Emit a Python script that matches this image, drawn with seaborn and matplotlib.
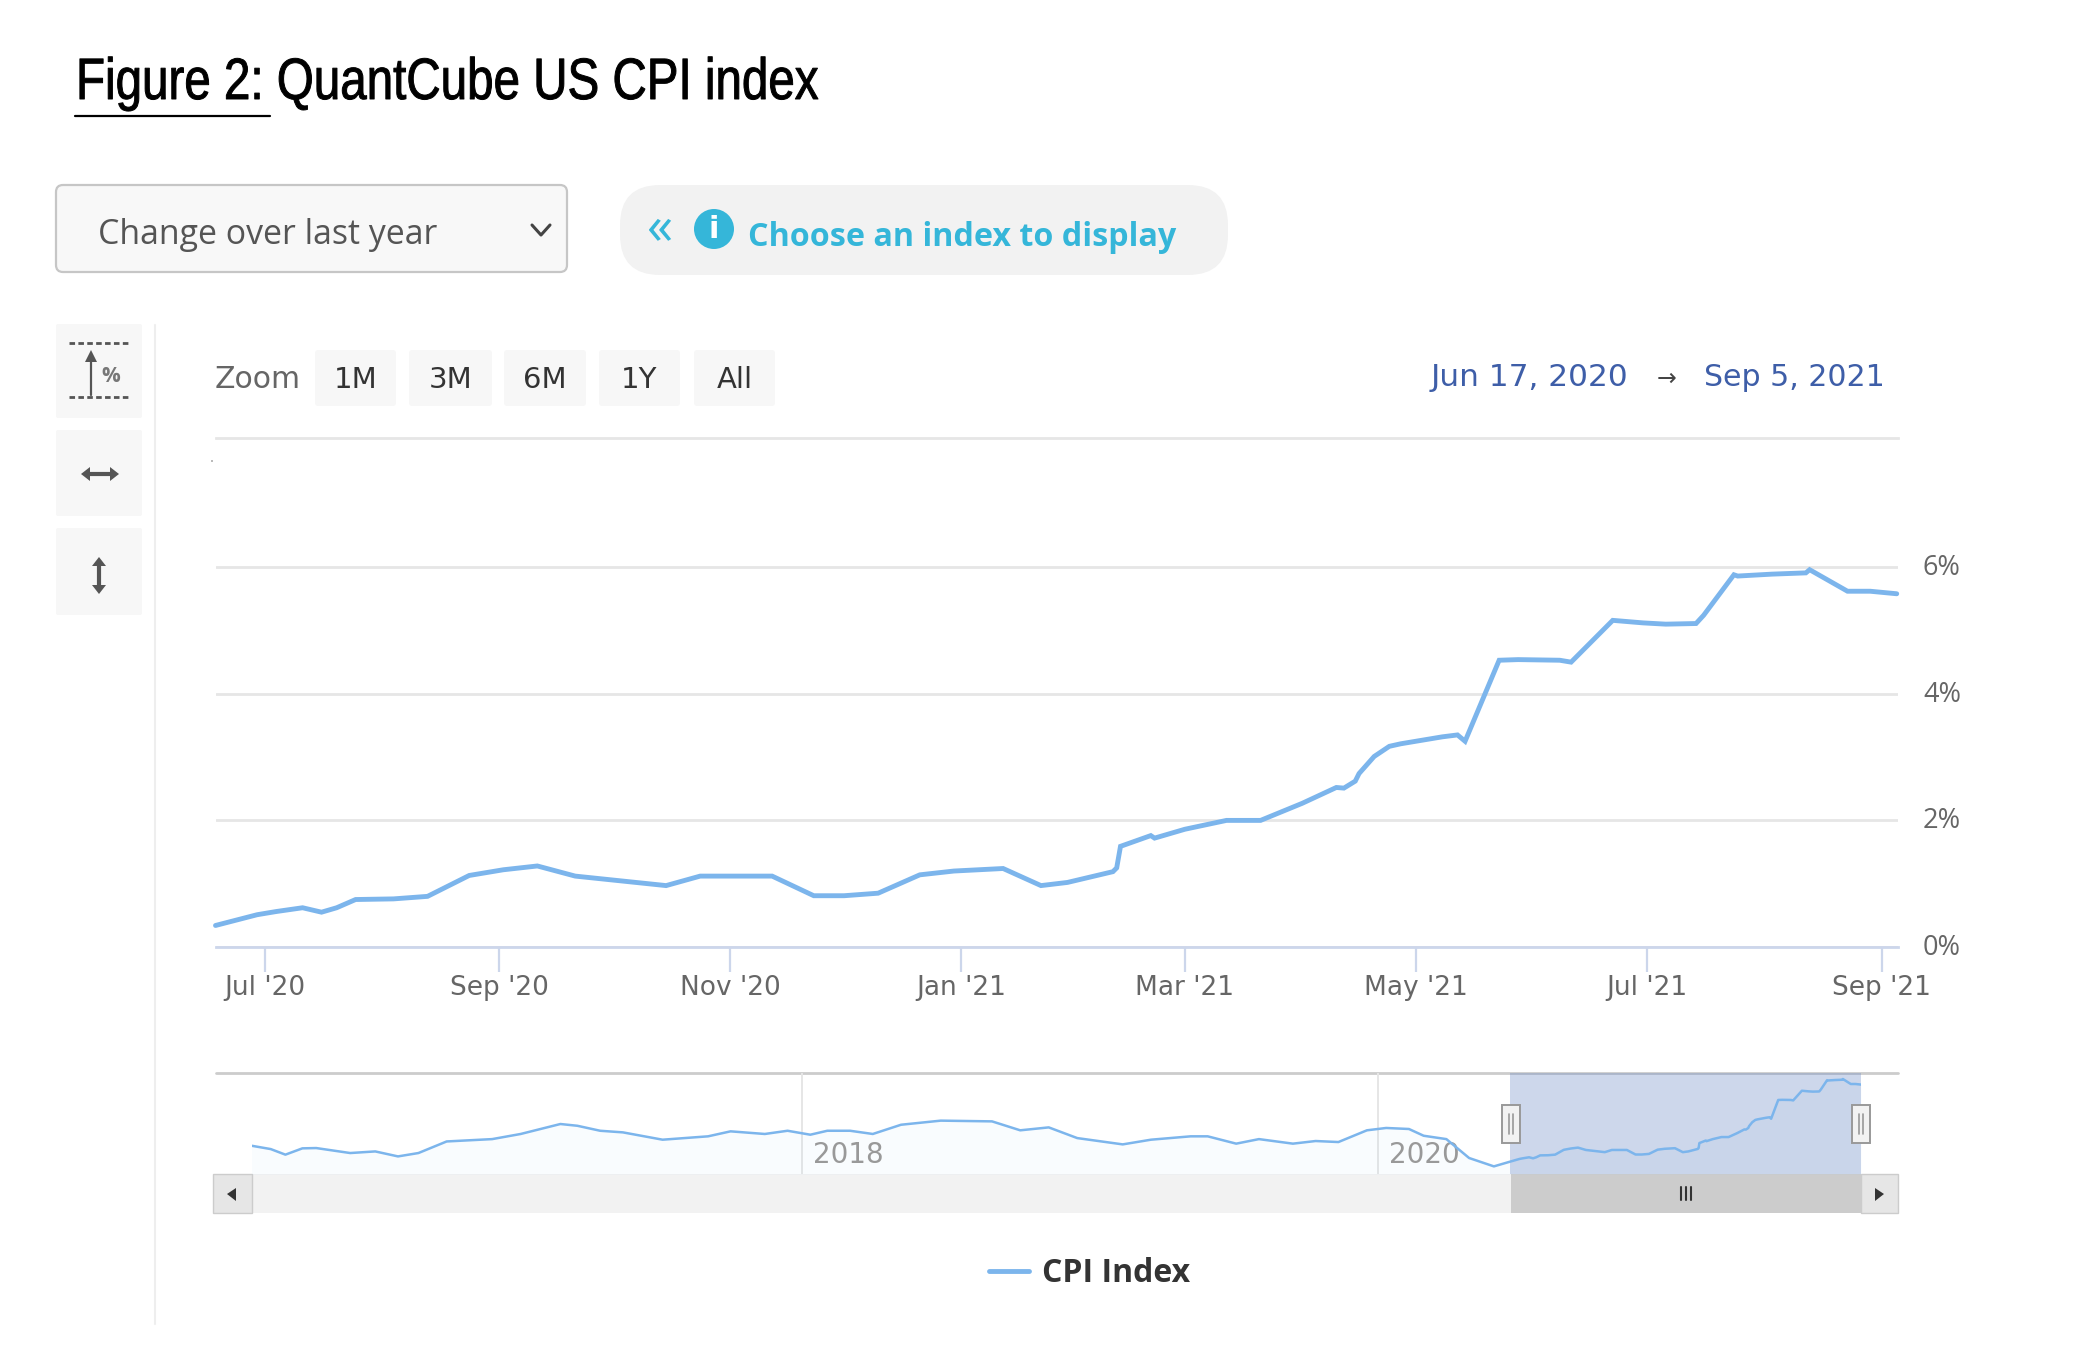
import numpy as np
import pandas as pd
import matplotlib
matplotlib.use("Agg")
import matplotlib.pyplot as plt
import matplotlib.dates as mdates
import matplotlib.patheffects as pe
from matplotlib.patches import FancyBboxPatch, Rectangle, Circle, Polygon
from matplotlib.lines import Line2D
from matplotlib.transforms import Affine2D
import seaborn as sns

# ---------- data ----------
dates = ["2020-06-18","2020-06-29","2020-07-04","2020-07-11","2020-07-16","2020-07-20","2020-07-25",
         "2020-08-04","2020-08-13","2020-08-24","2020-09-02","2020-09-11","2020-09-21","2020-10-15",
         "2020-10-24","2020-11-12","2020-11-23","2020-12-01","2020-12-10","2020-12-21","2020-12-30",
         "2021-01-12","2021-01-22","2021-01-29","2021-02-10","2021-02-11","2021-02-12","2021-02-20",
         "2021-02-21","2021-03-01","2021-03-12","2021-03-21","2021-04-01","2021-04-10","2021-04-12",
         "2021-04-15","2021-04-16","2021-04-20","2021-04-24","2021-04-27","2021-05-08","2021-05-12",
         "2021-05-14","2021-05-23","2021-05-28","2021-06-08","2021-06-11","2021-06-22",
         "2021-06-30","2021-07-06","2021-07-14","2021-07-16","2021-07-24","2021-07-25","2021-08-03",
         "2021-08-12","2021-08-13","2021-08-23","2021-08-29","2021-09-05"]
cpi = [0.34,0.51,0.56,0.62,0.55,0.62,0.75,
       0.76,0.80,1.13,1.22,1.28,1.12,0.97,
       1.12,1.12,0.81,0.81,0.85,1.14,1.20,
       1.24,0.97,1.02,1.19,1.25,1.59,1.76,
       1.72,1.86,2.00,2.00,2.27,2.52,2.51,
       2.62,2.74,3.01,3.17,3.21,3.32,3.35,
       3.25,4.53,4.54,4.53,4.50,5.16,
       5.12,5.10,5.11,5.24,5.88,5.86,5.89,
       5.91,5.96,5.62,5.62,5.58]

hist_years = [2016.087,2016.154,2016.205,2016.264,2016.312,2016.430,2016.517,2016.596,2016.667,2016.765,
              2016.923,2017.022,2017.160,2017.219,2017.298,2017.377,2017.515,2017.673,2017.751,2017.870,
              2017.949,2018.028,2018.087,2018.166,2018.245,2018.343,2018.481,2018.659,2018.757,2018.856,
              2018.955,2019.113,2019.211,2019.349,2019.408,2019.507,2019.586,2019.704,2019.783,2019.862,
              2019.961,2020.028,2020.107,2020.158,2020.237,2020.316,2020.402]
hist_cpi = [1.41,1.18,0.80,1.23,1.25,0.91,1.02,0.68,0.91,1.70,
            1.86,2.21,2.89,2.77,2.43,2.32,1.82,2.05,2.39,2.21,
            2.43,2.16,2.43,2.43,2.21,2.84,3.12,3.07,2.46,2.66,
            1.93,1.50,1.82,2.05,2.05,1.55,1.86,1.55,1.73,1.66,
            2.46,2.62,2.55,2.09,1.86,0.57,0.00]

y_ticks = [0, 2, 4, 6]
y_labels = ["0%", "2%", "4%", "6%"]
zoom_labels = ["1M", "3M", "6M", "1Y", "All"]
title = "Figure 2: QuantCube US CPI index"
series_name = "CPI Index"

# ---------- style ----------
sns.set_theme(style="white")
plt.rcParams["font.family"] = ["Open Sans", "DejaVu Sans"]
LINE = "#7cb5ec"; GRID = "#e6e6e6"; AXISC = "#ccd6eb"; LAB = "#666666"
DJ = "DejaVu Sans"
W, H = 2084, 1348
fig = plt.figure(figsize=(W/100, H/100), dpi=100, facecolor="white")

def axpx(x0, y0, x1, y1, **kw):
    return fig.add_axes([x0/W, 1-y1/H, (x1-x0)/W, (y1-y0)/H], **kw)

ui = axpx(0, 0, W, H)
ui.set_xlim(0, W); ui.set_ylim(H, 0); ui.axis("off")

def box(x0, y0, x1, y1, fc, ec="none", r=6, lw=1.5, z=1):
    ui.add_patch(FancyBboxPatch((x0+r, y0+r), x1-x0-2*r, y1-y0-2*r,
                                boxstyle=f"round,pad={r},rounding_size={r}",
                                fc=fc, ec=ec, lw=lw, zorder=z))

def line(xs, ys, c="#555555", lw=2.0, z=3, **kw):
    ui.add_line(Line2D(xs, ys, color=c, lw=lw, zorder=z, **kw))

class Squeeze(pe.AbstractPathEffect):
    """Condense the text horizontally about its left edge, with a slight embolden."""
    def __init__(self, x0, sx, stroke=0.5):
        super().__init__()
        self.x0, self.sx, self.stroke = x0, sx, stroke
    def draw_path(self, renderer, gc, tpath, affine, rgbFace=None):
        t = affine + Affine2D().translate(-self.x0, 0).scale(self.sx, 1).translate(self.x0, 0)
        gc.set_linewidth(self.stroke)
        gc.set_foreground(rgbFace if rgbFace is not None else "black")
        renderer.draw_path(gc, tpath, t, rgbFace)

# title
ui.text(76, 99, title, fontsize=42, family="Liberation Sans", color="black", va="baseline", ha="left",
        path_effects=[Squeeze(76, 0.815, 0.7)])
line([75, 270], [116, 116], c="black", lw=1.6)

# dropdown
box(56, 185, 567, 272, "#f8f8f8", "#c6c6c6", r=7, lw=1.6)
ui.text(98, 235, "Change over last year", fontsize=24.4, color="#555555", va="center", ha="left")
line([532, 541, 550], [225, 235, 225], c="#444444", lw=2.2)

# pill
box(620, 185, 1228, 275, "#f2f2f2", r=40)
CYAN = "#35b6d9"
ui.text(660, 229, "\u00ab", fontsize=38, color=CYAN, va="center", ha="center")
ui.add_patch(Circle((714, 229), 20, fc=CYAN, ec="none", zorder=3))
ui.text(714, 229, "i", fontsize=22, fontweight="bold", color="white", va="center", ha="center", zorder=4,
        family=DJ)
ui.text(748, 238, "Choose an index to display", fontsize=23.2, fontweight="bold", color=CYAN, va="center", ha="left")

# left toolbar
for y0, y1 in [(324, 418), (430, 516), (528, 615)]:
    box(56, y0, 142, y1, "#f7f7f7", r=2)
line([155, 155], [325, 1324], c="#eeeeee", lw=1.5)
line([69, 128], [343, 343], c="#555555", lw=2, ls=(0, (2, 1.2)))
line([69, 128], [397, 397], c="#555555", lw=2, ls=(0, (2, 1.2)))
line([91, 91], [395, 358], c="#555555", lw=1.6)
ui.add_patch(Polygon([[85, 362], [97, 362], [91, 350]], fc="#555555", ec="none", zorder=3))
ui.text(111, 377, "%", fontsize=15, fontweight="bold", color="#777777", va="center", ha="center")
line([88, 112], [474, 474], c="#555555", lw=3)
ui.add_patch(Polygon([[81, 474], [90, 467], [90, 481]], fc="#555555", ec="none", zorder=3))
ui.add_patch(Polygon([[119, 474], [110, 467], [110, 481]], fc="#555555", ec="none", zorder=3))
line([99, 99], [565, 586], c="#555555", lw=3)
ui.add_patch(Polygon([[99, 557], [92, 566], [106, 566]], fc="#555555", ec="none", zorder=3))
ui.add_patch(Polygon([[99, 594], [92, 585], [106, 585]], fc="#555555", ec="none", zorder=3))

# zoom row
ui.text(215, 380, "Zoom", fontsize=21.5, color=LAB, va="center", ha="left", family=DJ)
for (x0, x1), lab in zip([(315, 396), (409, 492), (504, 586), (599, 680), (694, 775)], zoom_labels):
    box(x0, 350, x1, 406, "#f7f7f7", r=3)
    ui.text((x0+x1)/2, 380, lab, fontsize=21, color="#333333", va="center", ha="center", zorder=3, family=DJ)

# date range
BLUE = "#3e5ea8"
ui.text(1628, 377, "Jun 17, 2020", fontsize=22.5, color=BLUE, va="center", ha="right", family=DJ)
ui.text(1667, 379, "\u2192", fontsize=17, color="#444444", va="center", ha="center", family=DJ)
ui.text(1885, 377, "Sep 5, 2021", fontsize=21.6, color=BLUE, va="center", ha="right", family=DJ)
ui.add_patch(Rectangle((211, 460), 2, 2, fc="#bbbbbb", ec="none"))

# ---------- main chart ----------
df = pd.DataFrame({"date": pd.to_datetime(dates), "cpi": cpi})
ax = axpx(215.5, 437.6, 1898, 947)
ax.patch.set_alpha(0)
sns.lineplot(data=df, x="date", y="cpi", ax=ax, color=LINE, lw=3.5, label=series_name,
             solid_joinstyle="miter", clip_on=False)
ax.set_xlim(pd.Timestamp("2020-06-18"), pd.Timestamp("2021-09-05 08:00"))
ax.set_ylim(0, 8.047)
ax.set_xlabel(""); ax.set_ylabel("")
ax.set_yticks(y_ticks, y_labels)
ax.yaxis.tick_right()
ax.grid(axis="y", color=GRID, lw=2)
ax.set_axisbelow(True)
ax.xaxis.set_major_locator(mdates.MonthLocator(bymonth=[1, 3, 5, 7, 9, 11]))
ax.xaxis.set_major_formatter(mdates.DateFormatter("%b '%y"))
ax.tick_params(axis="x", length=18, width=1.6, color=AXISC, labelsize=19, labelcolor=LAB, pad=2.5, bottom=True)
ax.tick_params(axis="y", length=0, labelsize=19.5, labelcolor=LAB, pad=18)
for lab in ax.get_xticklabels():
    lab.set_family(DJ)
for lab in ax.get_yticklabels():
    lab.set_verticalalignment("bottom")
for s in ["left", "right"]:
    ax.spines[s].set_visible(False)
ax.spines["bottom"].set_color(AXISC); ax.spines["bottom"].set_linewidth(2)
ax.spines["top"].set_color(GRID); ax.spines["top"].set_linewidth(2)
for lab in ax.get_yticklabels():
    lab.set_transform(lab.get_transform() + Affine2D().translate(0, -15))
leg = ax.legend(loc="center left", bbox_to_anchor=(989/W, 1-1274/H), bbox_transform=fig.transFigure,
                frameon=False, handlelength=1.25, handletextpad=0.42, borderaxespad=0, borderpad=0,
                prop={"size": 23, "weight": "bold"})
for t in leg.get_texts():
    t.set_color("#333333")

# ---------- navigator ----------
hist_dates = pd.Timestamp("2018-01-01") + pd.to_timedelta((np.array(hist_years)-2018)*365.25, unit="D")
nav = pd.concat([pd.DataFrame({"date": hist_dates, "cpi": hist_cpi}), df], ignore_index=True)
NX0, NX1, NY0, NY1 = 252, 1861, 1073, 1174
ax2 = axpx(NX0, NY0, NX1, NY1)
ax2.patch.set_alpha(0)
ax2.fill_between(nav["date"], -1, nav["cpi"], color=LINE, alpha=0.04, lw=0)
ax2.axvspan(pd.Timestamp("2020-06-17"), pd.Timestamp("2021-09-05"), color="#6685c2", alpha=0.32, lw=0)
sns.lineplot(data=nav, x="date", y="cpi", ax=ax2, color=LINE, lw=1.8, legend=False)
ax2.set_xlim(pd.Timestamp("2016-02-03"), pd.Timestamp("2021-09-05"))
ax2.set_ylim(-0.52, 6.37)
ax2.set_xlabel(""); ax2.set_ylabel("")
ax2.set_yticks([])
ax2.set_xticks([pd.Timestamp("2018-01-01"), pd.Timestamp("2020-01-01")], [])
ax2.tick_params(axis="x", length=0)
ax2.grid(axis="x", color=GRID, lw=1.4)
ax2.set_axisbelow(True)
for s in ax2.spines.values():
    s.set_visible(False)
line([215.5, 1898], [NY0, NY0], c="#cccccc", lw=2, z=1)
for yr, xp in [("2018", 813), ("2020", 1389)]:
    ax2.text((xp-NX0)/(NX1-NX0), (NY1-1155)/(NY1-NY0), yr, transform=ax2.transAxes, fontsize=20, color="#999999",
             va="center", ha="left", zorder=1, family=DJ)

# scrollbar
ui.add_patch(Rectangle((NX0, NY1), NX1-NX0, 39, fc="#f2f2f2", ec="none"))
ui.add_patch(Rectangle((1511, NY1), NX1-1511, 39, fc="#cccccc", ec="none", zorder=2))
for x0, x1 in [(213, NX0), (NX1, 1898)]:
    ui.add_patch(Rectangle((x0, NY1), x1-x0, 39, fc="#e6e6e6", ec="#cccccc", lw=1, zorder=2))
ui.add_patch(Polygon([[227, 1194], [236, 1188], [236, 1201]], fc="#333333", ec="none", zorder=3))
ui.add_patch(Polygon([[1884, 1194], [1875, 1188], [1875, 1201]], fc="#333333", ec="none", zorder=3))
for dx in (-5, 0, 5):
    line([1686+dx, 1686+dx], [1187, 1200], c="#333333", lw=1.5)

# handles, above the navigator axes
top = axpx(0, 0, W, H)
top.set_xlim(0, W); top.set_ylim(H, 0); top.axis("off"); top.patch.set_alpha(0)
for xc in (1511, 1861):
    top.add_patch(Rectangle((xc-9, 1105), 18, 38, fc="#f2f2f2", ec="#999999", lw=1.4))
    for dx in (-2, 2):
        top.add_line(Line2D([xc+dx, xc+dx], [1114, 1134], color="#999999", lw=1.2))

fig.savefig("out.png", dpi=100, facecolor="white")
